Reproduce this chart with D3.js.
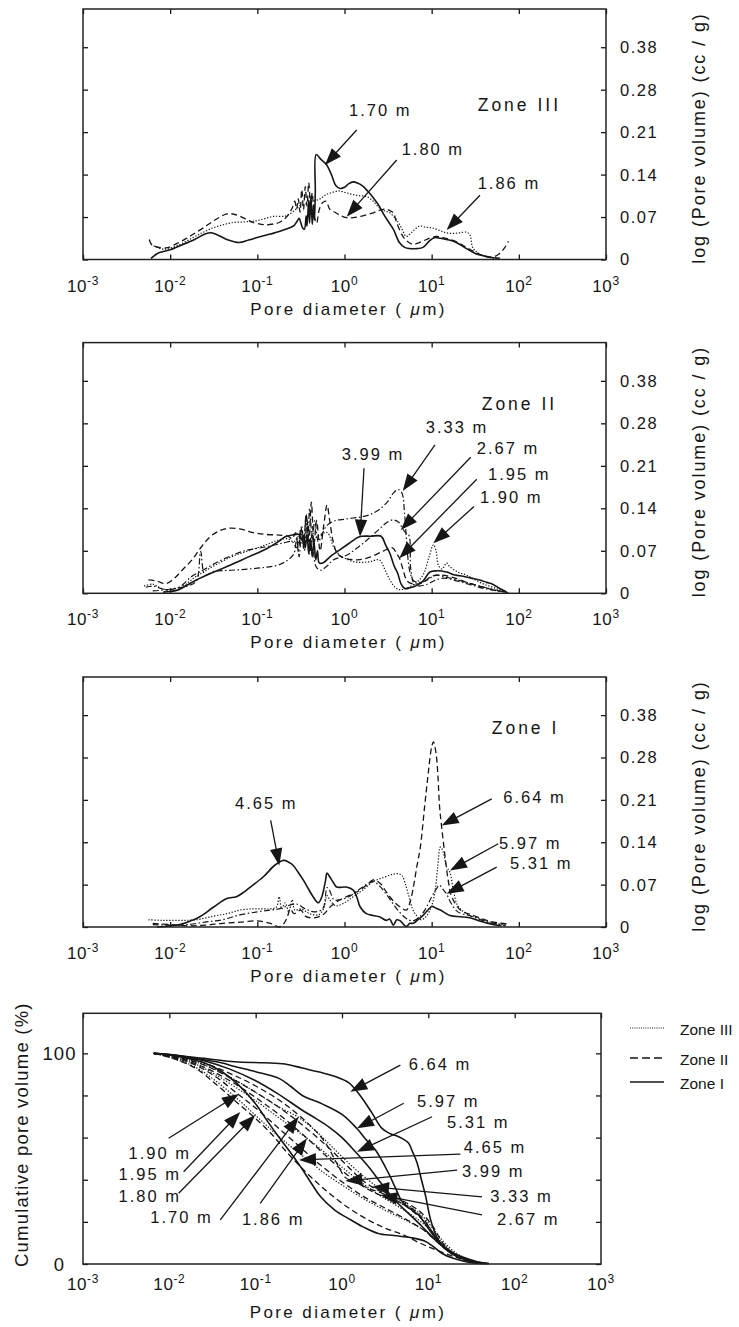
<!DOCTYPE html>
<html>
<head>
<meta charset="utf-8">
<script src="https://cdn.jsdelivr.net/npm/d3@7"></script>
<style>
  body { margin: 0; background: #fff; }
  svg { display: block; }
  text { font-family: "Liberation Sans", Arial, Helvetica, sans-serif; fill: #151515; }
</style>
</head>
<body>
<svg id="fig" width="739" height="1327"></svg>
<script>
// ---------- tick values ----------
const decadeExps = [-3, -2, -1, 0, 1, 2, 3];
const psdTickValues = [0, 0.07, 0.14, 0.21, 0.28, 0.38];
const cumTickValues = [0, 20, 40, 60, 80, 100];
const cumTickLabels = [0, 100];

// ---------- Zone III, log differential pore volume: [log10 diameter (µm), cc/g] ----------
const z3_170 = [[-2.22,0.002],[-2.13,0.011],[-2.0,0.016],[-1.9,0.022],[-1.72,0.033],[-1.6,0.042],[-1.53,0.044],[-1.45,0.04],[-1.35,0.033],[-1.21,0.028],[-1.1,0.032],[-0.98,0.037],[-0.85,0.042],[-0.75,0.046],[-0.65,0.051],[-0.58,0.056],[-0.54,0.064],[-0.52,0.068],[-0.5,0.06],[-0.48,0.052],[-0.46,0.05],[-0.44,0.072],[-0.43,0.055],[-0.41,0.098],[-0.4,0.06],[-0.385,0.105],[-0.37,0.058],[-0.355,0.09],[-0.345,0.065],[-0.335,0.11],[-0.325,0.173],[-0.27,0.165],[-0.21,0.157],[-0.15,0.14],[-0.1,0.122],[-0.05,0.117],[0.0,0.119],[0.05,0.125],[0.1,0.128],[0.15,0.126],[0.21,0.121],[0.27,0.112],[0.33,0.102],[0.39,0.09],[0.44,0.077],[0.5,0.063],[0.56,0.05],[0.63,0.028],[0.69,0.02],[0.75,0.018],[0.83,0.018],[0.9,0.02],[0.97,0.03],[1.03,0.036],[1.1,0.035],[1.17,0.033],[1.25,0.03],[1.32,0.025],[1.4,0.018],[1.5,0.01],[1.6,0.006],[1.7,0.003],[1.78,0.002]];
const z3_180 = [[-2.24,0.033],[-2.22,0.026],[-2.18,0.022],[-2.05,0.019],[-1.9,0.028],[-1.8,0.036],[-1.71,0.044],[-1.6,0.054],[-1.51,0.063],[-1.43,0.07],[-1.36,0.075],[-1.28,0.075],[-1.21,0.072],[-1.12,0.066],[-1.05,0.061],[-0.95,0.058],[-0.9,0.057],[-0.8,0.059],[-0.75,0.061],[-0.68,0.068],[-0.63,0.077],[-0.6,0.085],[-0.57,0.096],[-0.55,0.083],[-0.53,0.1],[-0.51,0.078],[-0.49,0.115],[-0.47,0.082],[-0.45,0.12],[-0.43,0.088],[-0.41,0.127],[-0.39,0.09],[-0.37,0.11],[-0.35,0.075],[-0.32,0.06],[-0.29,0.082],[-0.25,0.094],[-0.21,0.096],[-0.17,0.083],[-0.1,0.077],[-0.04,0.072],[0.02,0.069],[0.1,0.069],[0.21,0.072],[0.33,0.077],[0.42,0.082],[0.48,0.083],[0.53,0.08],[0.56,0.077],[0.6,0.06],[0.67,0.038],[0.72,0.03],[0.78,0.025],[0.86,0.028],[0.94,0.033],[1.05,0.038],[1.13,0.036],[1.21,0.033],[1.3,0.028],[1.4,0.02],[1.5,0.012],[1.6,0.006],[1.7,0.004],[1.78,0.01],[1.84,0.02],[1.88,0.03]];
const z3_186 = [[-2.22,0.025],[-2.15,0.02],[-2.05,0.017],[-1.9,0.024],[-1.74,0.036],[-1.62,0.045],[-1.51,0.052],[-1.4,0.057],[-1.28,0.061],[-1.15,0.062],[-1.05,0.063],[-0.95,0.066],[-0.82,0.071],[-0.67,0.072],[-0.58,0.08],[-0.52,0.088],[-0.44,0.092],[-0.36,0.096],[-0.28,0.1],[-0.21,0.107],[-0.13,0.111],[-0.06,0.113],[0.02,0.11],[0.1,0.107],[0.18,0.105],[0.25,0.104],[0.33,0.096],[0.4,0.085],[0.46,0.08],[0.52,0.077],[0.57,0.07],[0.61,0.063],[0.66,0.05],[0.71,0.038],[0.78,0.046],[0.86,0.055],[0.94,0.053],[1.01,0.052],[1.09,0.048],[1.17,0.044],[1.25,0.043],[1.32,0.044],[1.4,0.045],[1.44,0.04],[1.47,0.02],[1.52,0.012],[1.6,0.006],[1.7,0.003],[1.78,0.002]];

// ---------- Zone II ----------
const z2_399 = [[-2.08,0.002],[-2.0,0.003],[-1.9,0.006],[-1.8,0.014],[-1.7,0.022],[-1.5,0.035],[-1.3,0.047],[-1.1,0.06],[-0.9,0.073],[-0.75,0.086],[-0.68,0.093],[-0.6,0.096],[-0.52,0.097],[-0.49,0.088],[-0.47,0.095],[-0.45,0.075],[-0.43,0.097],[-0.41,0.065],[-0.39,0.09],[-0.37,0.06],[-0.35,0.085],[-0.33,0.055],[-0.31,0.07],[-0.29,0.05],[-0.25,0.05],[-0.15,0.062],[-0.05,0.072],[0.05,0.082],[0.15,0.092],[0.2,0.094],[0.3,0.094],[0.42,0.094],[0.47,0.08],[0.52,0.066],[0.57,0.045],[0.61,0.033],[0.65,0.015],[0.69,0.008],[0.75,0.009],[0.83,0.013],[0.9,0.02],[0.98,0.035],[1.05,0.037],[1.17,0.035],[1.27,0.03],[1.36,0.028],[1.45,0.025],[1.55,0.022],[1.63,0.018],[1.7,0.015],[1.78,0.008],[1.85,0.003]];
const z2_333 = [[-2.28,0.01],[-2.2,0.012],[-2.05,0.006],[-1.9,0.01],[-1.75,0.028],[-1.6,0.04],[-1.45,0.052],[-1.3,0.062],[-1.15,0.07],[-1.0,0.074],[-0.85,0.078],[-0.7,0.083],[-0.6,0.085],[-0.55,0.075],[-0.5,0.1],[-0.47,0.08],[-0.44,0.13],[-0.42,0.085],[-0.4,0.14],[-0.37,0.09],[-0.34,0.12],[-0.3,0.085],[-0.25,0.1],[-0.2,0.112],[-0.1,0.12],[0.0,0.122],[0.1,0.124],[0.2,0.126],[0.3,0.13],[0.4,0.138],[0.5,0.152],[0.56,0.165],[0.62,0.171],[0.66,0.165],[0.69,0.13],[0.71,0.09],[0.73,0.055],[0.76,0.03],[0.8,0.02],[0.88,0.018],[0.95,0.022],[1.05,0.03],[1.15,0.027],[1.3,0.022],[1.45,0.016],[1.6,0.01],[1.75,0.005],[1.86,0.002]];
const z2_267 = [[-2.2,0.004],[-2.1,0.005],[-1.95,0.008],[-1.8,0.012],[-1.7,0.02],[-1.65,0.069],[-1.6,0.03],[-1.5,0.036],[-1.3,0.038],[-1.1,0.04],[-0.9,0.043],[-0.75,0.047],[-0.65,0.055],[-0.58,0.065],[-0.55,0.09],[-0.52,0.06],[-0.49,0.11],[-0.46,0.07],[-0.43,0.12],[-0.4,0.065],[-0.37,0.1],[-0.33,0.045],[-0.28,0.038],[-0.2,0.045],[-0.13,0.055],[0.03,0.063],[0.12,0.072],[0.22,0.083],[0.3,0.093],[0.37,0.102],[0.43,0.11],[0.48,0.116],[0.56,0.121],[0.63,0.116],[0.66,0.108],[0.7,0.1],[0.74,0.095],[0.76,0.04],[0.8,0.015],[0.85,0.012],[0.95,0.015],[1.05,0.022],[1.15,0.025],[1.3,0.02],[1.45,0.014],[1.6,0.008],[1.75,0.004],[1.88,0.001]];
const z2_195 = [[-2.25,0.022],[-2.15,0.02],[-2.05,0.016],[-1.95,0.025],[-1.85,0.04],[-1.75,0.055],[-1.65,0.075],[-1.55,0.092],[-1.45,0.102],[-1.34,0.107],[-1.2,0.106],[-1.05,0.1],[-0.9,0.097],[-0.75,0.096],[-0.65,0.094],[-0.6,0.09],[-0.56,0.1],[-0.53,0.07],[-0.5,0.11],[-0.47,0.075],[-0.44,0.13],[-0.41,0.08],[-0.38,0.15],[-0.35,0.08],[-0.32,0.12],[-0.28,0.07],[-0.24,0.11],[-0.2,0.145],[-0.17,0.12],[-0.13,0.085],[-0.08,0.065],[0.0,0.058],[0.15,0.055],[0.3,0.06],[0.45,0.07],[0.55,0.075],[0.6,0.065],[0.63,0.058],[0.67,0.04],[0.72,0.02],[0.8,0.015],[0.9,0.018],[1.0,0.028],[1.1,0.03],[1.25,0.026],[1.4,0.018],[1.55,0.012],[1.7,0.006],[1.85,0.002]];
const z2_190 = [[-2.3,0.012],[-2.2,0.015],[-2.1,0.008],[-1.95,0.004],[-1.85,0.012],[-1.7,0.028],[-1.5,0.045],[-1.3,0.06],[-1.1,0.07],[-0.9,0.08],[-0.75,0.088],[-0.65,0.09],[-0.58,0.085],[-0.52,0.095],[-0.48,0.08],[-0.45,0.1],[-0.4,0.085],[-0.3,0.095],[-0.2,0.1],[-0.12,0.075],[-0.05,0.062],[0.0,0.058],[0.1,0.052],[0.2,0.051],[0.29,0.052],[0.4,0.055],[0.46,0.04],[0.52,0.022],[0.58,0.01],[0.63,0.006],[0.7,0.008],[0.8,0.015],[0.9,0.03],[0.97,0.06],[1.02,0.08],[1.05,0.07],[1.08,0.045],[1.12,0.04],[1.17,0.05],[1.2,0.045],[1.3,0.035],[1.4,0.03],[1.5,0.022],[1.6,0.015],[1.7,0.01],[1.8,0.005],[1.88,0.002]];

// ---------- Zone I ----------
const z1_465 = [[-2.15,0.0],[-1.89,0.004],[-1.75,0.011],[-1.66,0.017],[-1.5,0.033],[-1.35,0.047],[-1.24,0.05],[-1.15,0.058],[-1.08,0.066],[-0.93,0.083],[-0.8,0.102],[-0.7,0.11],[-0.64,0.107],[-0.59,0.102],[-0.53,0.09],[-0.47,0.077],[-0.41,0.062],[-0.36,0.05],[-0.3,0.04],[-0.26,0.05],[-0.22,0.075],[-0.2,0.089],[-0.17,0.083],[-0.13,0.074],[-0.09,0.066],[0.02,0.066],[0.1,0.061],[0.14,0.05],[0.18,0.033],[0.25,0.022],[0.33,0.019],[0.4,0.017],[0.48,0.011],[0.52,0.013],[0.56,0.003],[0.6,0.012],[0.64,0.01],[0.68,0.004],[0.71,0.001],[0.75,0.006],[0.79,0.006],[0.85,0.013],[0.9,0.019],[0.95,0.027],[1.0,0.034],[1.05,0.031],[1.1,0.028],[1.21,0.019],[1.33,0.017],[1.45,0.015],[1.55,0.01],[1.65,0.006],[1.75,0.003],[1.8,0.002]];
const z1_664 = [[-2.2,0.006],[-2.0,0.004],[-1.8,0.002],[-1.6,0.003],[-1.4,0.006],[-1.2,0.008],[-1.0,0.01],[-0.85,0.006],[-0.75,0.0],[-0.7,0.005],[-0.66,0.015],[-0.62,0.03],[-0.58,0.022],[-0.5,0.028],[-0.45,0.018],[-0.35,0.015],[-0.25,0.02],[-0.15,0.035],[-0.05,0.045],[0.02,0.05],[0.1,0.055],[0.18,0.061],[0.26,0.07],[0.33,0.078],[0.41,0.072],[0.47,0.06],[0.52,0.05],[0.58,0.04],[0.64,0.033],[0.71,0.028],[0.75,0.04],[0.79,0.066],[0.83,0.1],[0.87,0.132],[0.92,0.2],[0.96,0.253],[1.0,0.305],[1.02,0.317],[1.05,0.29],[1.07,0.254],[1.09,0.2],[1.11,0.171],[1.15,0.121],[1.19,0.077],[1.23,0.05],[1.33,0.028],[1.48,0.019],[1.63,0.011],[1.75,0.007],[1.86,0.005]];
const z1_597 = [[-2.25,0.012],[-2.1,0.011],[-1.9,0.011],[-1.7,0.012],[-1.5,0.018],[-1.35,0.022],[-1.2,0.028],[-1.05,0.03],[-0.95,0.03],[-0.85,0.03],[-0.78,0.033],[-0.75,0.05],[-0.72,0.03],[-0.68,0.04],[-0.64,0.025],[-0.6,0.045],[-0.57,0.028],[-0.5,0.03],[-0.4,0.022],[-0.3,0.02],[-0.24,0.03],[-0.2,0.052],[-0.17,0.045],[-0.1,0.035],[0.0,0.04],[0.1,0.05],[0.2,0.06],[0.33,0.075],[0.45,0.082],[0.55,0.087],[0.62,0.088],[0.66,0.085],[0.7,0.07],[0.74,0.05],[0.78,0.03],[0.82,0.02],[0.88,0.012],[0.94,0.018],[1.0,0.035],[1.04,0.06],[1.07,0.1],[1.1,0.132],[1.13,0.125],[1.17,0.1],[1.21,0.09],[1.25,0.06],[1.3,0.035],[1.4,0.022],[1.55,0.014],[1.7,0.007],[1.85,0.003]];
const z1_531 = [[-2.2,0.004],[-2.0,0.003],[-1.8,0.004],[-1.6,0.008],[-1.4,0.012],[-1.2,0.02],[-1.0,0.025],[-0.85,0.028],[-0.75,0.03],[-0.65,0.035],[-0.55,0.038],[-0.45,0.03],[-0.35,0.025],[-0.25,0.03],[-0.2,0.065],[-0.17,0.06],[-0.12,0.045],[-0.05,0.045],[0.05,0.05],[0.15,0.06],[0.25,0.07],[0.33,0.075],[0.4,0.068],[0.5,0.05],[0.6,0.03],[0.7,0.015],[0.78,0.01],[0.85,0.015],[0.93,0.03],[1.0,0.05],[1.05,0.062],[1.09,0.069],[1.13,0.062],[1.17,0.055],[1.22,0.04],[1.3,0.025],[1.45,0.018],[1.6,0.01],[1.75,0.005],[1.85,0.002]];

// ---------- cumulative pore volume (%) ----------
const c_664 = [[-2.18,100],[-1.9,99],[-1.6,97.6],[-1.24,96],[-0.9,95.5],[-0.66,94.9],[-0.46,93],[-0.25,91],[-0.08,89],[0.08,86],[0.21,80],[0.35,71.5],[0.46,64.5],[0.55,62],[0.62,61],[0.7,59.5],[0.77,57.4],[0.82,53],[0.87,48],[0.92,40],[0.97,32],[1.02,22],[1.08,14.5],[1.15,9.5],[1.24,6.6],[1.35,4],[1.47,2.3],[1.6,0.8],[1.7,0.2]];
const c_597 = [[-2.18,100],[-1.9,99],[-1.62,97],[-1.4,95.5],[-1.24,93.7],[-1.0,91.3],[-0.73,88.1],[-0.6,84.5],[-0.46,80],[-0.23,76],[0.0,71],[0.17,64.4],[0.28,59],[0.39,54],[0.54,43],[0.62,36],[0.69,30],[0.75,27.5],[0.81,25.6],[0.88,23.5],[0.93,21],[0.98,18],[1.04,14.6],[1.12,10.5],[1.2,7.4],[1.3,4.5],[1.43,2.4],[1.58,0.8],[1.7,0.2]];
const c_531 = [[-2.18,100],[-1.9,98.8],[-1.6,96.5],[-1.3,92.5],[-1.0,87],[-0.75,81],[-0.46,73],[-0.3,69],[-0.15,65],[0.0,60],[0.15,53.5],[0.31,46],[0.46,38],[0.62,30],[0.77,24],[0.93,17.7],[1.08,11.4],[1.18,7.8],[1.27,5],[1.38,2.8],[1.5,1.2],[1.65,0.2]];
const c_465 = [[-2.18,100],[-1.9,98.5],[-1.6,95.5],[-1.4,91.5],[-1.2,85],[-1.0,76],[-0.85,67],[-0.7,58.5],[-0.58,52],[-0.46,45],[-0.35,38],[-0.25,32],[-0.08,25.5],[0.1,21],[0.25,17.5],[0.42,14.5],[0.6,13.5],[0.8,12.5],[0.95,11],[1.05,8.5],[1.16,5],[1.28,2.8],[1.45,1],[1.62,0.2]];
const c_399 = [[-2.18,100],[-1.9,98.6],[-1.6,95.5],[-1.3,90.5],[-1.0,84.5],[-0.7,77],[-0.4,67],[-0.2,58],[-0.05,47],[0.04,41],[0.15,39],[0.3,36],[0.5,33],[0.7,28.5],[0.85,24],[1.0,18],[1.1,12],[1.2,7.5],[1.35,3.5],[1.5,1.3],[1.65,0.2]];
const c_333 = [[-2.18,100],[-1.9,98.2],[-1.6,94.5],[-1.3,88.5],[-1.0,81.5],[-0.7,73.5],[-0.4,64],[-0.15,55],[0.05,47],[0.2,41],[0.35,36.5],[0.5,33.5],[0.7,30],[0.9,25],[1.05,18],[1.15,11],[1.25,6],[1.4,2.5],[1.55,0.8],[1.65,0.2]];
const c_267 = [[-2.18,100],[-1.9,97.8],[-1.6,93.5],[-1.3,87],[-1.0,79],[-0.7,70],[-0.4,59.5],[-0.15,50],[0.1,41],[0.3,35.5],[0.45,32.5],[0.6,30],[0.8,26.5],[0.95,21],[1.08,13],[1.2,7],[1.35,3],[1.5,1],[1.65,0.2]];
const c_195 = [[-2.18,100],[-1.95,97.5],[-1.7,93],[-1.45,85],[-1.24,77.5],[-1.0,69],[-0.8,61],[-0.66,54],[-0.5,47],[-0.3,39],[-0.1,32],[0.1,26],[0.3,21],[0.5,17],[0.7,14],[0.9,10],[1.1,6.5],[1.3,3.5],[1.5,1.2],[1.65,0.2]];
const c_190 = [[-2.18,100],[-1.95,98],[-1.7,94.5],[-1.45,88.5],[-1.2,80.5],[-1.0,74],[-0.75,65],[-0.5,56],[-0.25,47],[0.0,39],[0.25,32],[0.5,26.5],[0.75,21],[0.95,16],[1.1,10.5],[1.25,5.5],[1.4,2.5],[1.55,0.8],[1.68,0.1]];
const c_186 = [[-2.18,100],[-1.95,98],[-1.7,95],[-1.45,89.5],[-1.2,83],[-1.0,77.5],[-0.75,70],[-0.55,64],[-0.4,59.5],[-0.2,53],[0.0,46],[0.2,39.5],[0.4,33.5],[0.6,28.5],[0.8,23.5],[1.0,17],[1.15,10.5],[1.3,5],[1.45,2],[1.6,0.5],[1.7,0.1]];
const c_180 = [[-2.18,100],[-1.95,97.5],[-1.7,93.5],[-1.45,86.5],[-1.2,78],[-1.0,70.5],[-0.8,63],[-0.6,56],[-0.4,49.5],[-0.2,43],[0.0,37.5],[0.25,31],[0.5,25.5],[0.75,20.5],[0.95,16],[1.1,11],[1.25,6],[1.4,2.8],[1.55,0.9],[1.68,0.1]];
const c_170 = [[-2.18,100],[-1.95,98.5],[-1.7,96],[-1.45,92],[-1.2,86.5],[-1.0,81.5],[-0.75,75],[-0.5,69.5],[-0.3,63],[-0.1,55],[0.1,47],[0.3,40],[0.5,34],[0.7,29.5],[0.9,24],[1.05,17],[1.2,9.5],[1.35,4.5],[1.5,1.5],[1.65,0.2]];

// ---------- depth labels: [text, text x, text y, arrow from x, from y, arrow tip x, tip y] (log10 µm, value) ----------
const notesZ3 = [
  ["1.70 m", 0.052, 0.237, 0.14, 0.2135, -0.224, 0.156],
  ["1.80 m", 0.656, 0.172, 0.599, 0.164, 0.025, 0.0706],
  ["1.86 m", 1.528, 0.117, 1.554, 0.106, 1.172, 0.0486]
];
const notesZ2 = [
  ["3.99 m", -0.032, 0.2197, 0.224, 0.206, 0.178, 0.0933],
  ["3.33 m", 0.932, 0.2638, 1.038, 0.2445, 0.668, 0.1686],
  ["2.67 m", 1.517, 0.2297, 1.448, 0.2242, 0.645, 0.1044],
  ["1.95 m", 1.646, 0.1868, 1.517, 0.188, 0.629, 0.0577],
  ["1.90 m", 1.554, 0.148, 1.486, 0.143, 1.019, 0.0824]
];
const notesZ1 = [
  ["4.65 m", -1.256, 0.1952, -0.847, 0.176, -0.748, 0.1017],
  ["6.64 m", 1.822, 0.2044, 1.689, 0.2117, 1.115, 0.1677],
  ["5.97 m", 1.772, 0.1293, 1.764, 0.1375, 1.21, 0.0935],
  ["5.31 m", 1.899, 0.0963, 1.746, 0.0989, 1.172, 0.0551]
];
const notesCum = [
  ["6.64 m", 0.773, 92.1, 0.676, 94.4, 0.096, 81.8],
  ["5.97 m", 0.869, 74.7, 0.715, 76.3, 0.174, 64.4],
  ["5.31 m", 1.217, 64.4, 1.043, 69.9, 0.174, 53.3],
  ["4.65 m", 1.41, 52.5, 1.371, 52.2, -0.498, 49.4],
  ["3.99 m", 1.39, 41.4, 1.333, 44.6, 0.038, 39.4],
  ["3.33 m", 1.718, 29.6, 1.622, 31.9, 0.348, 36.7],
  ["2.67 m", 1.796, 18.5, 1.622, 23.3, 0.444, 32.7],
  ["1.90 m", -2.472, 49.7, -2.008, 59.7, -1.194, 80.7],
  ["1.95 m", -2.588, 39.9, -1.834, 43.8, -1.178, 72.1],
  ["1.80 m", -2.588, 29.6, -1.892, 33.6, -1.005, 70.7],
  ["1.70 m", -2.221, 19.3, -1.41, 20.9, -0.502, 69.9],
  ["1.86 m", -1.159, 18.5, -0.947, 28.8, -0.406, 59.7]
];

const zoneNames = ["Zone III", "Zone II", "Zone I"];
const zoneLabelPos = [[1.528, 0.245], [1.574, 0.3117], [1.689, 0.3355]];

// ---------- drawing ----------
const svg = d3.select("#fig");
const ink = "#161616";
const lineStyles = {
  solid:   { w: 1.6, dash: null },
  dashed:  { w: 1.3, dash: "6,3.5" },
  dotted:  { w: 1.2, dash: "1.3,1.7" },
  dashdot: { w: 1.2, dash: "6,2.5,1.5,2.5" }
};

function supTickLabel(g, xs, yBase, exps) {
  const t = g.selectAll("text.xt").data(exps).join("text")
    .attr("class", "xt")
    .attr("x", e => xs(Math.pow(10, e)))
    .attr("y", yBase)
    .attr("text-anchor", "middle")
    .style("font-size", "17px")
    .style("letter-spacing", "0.6px");
  t.append("tspan").text("10");
  t.append("tspan").attr("dy", -7).style("font-size", "12px").text(e => String(e));
}

function xTitle(g, cx, yBase) {
  const t = g.append("text").attr("x", cx).attr("y", yBase)
    .attr("text-anchor", "middle")
    .style("font-size", "17px").style("letter-spacing", "2.4px");
  t.append("tspan").text("Pore diameter ( ");
  t.append("tspan").style("font-style", "italic").text("\u03BC");
  t.append("tspan").text("m)");
}

function arrow(g, x1, y1, x2, y2) {
  const dx = x2 - x1, dy = y2 - y1, len = Math.hypot(dx, dy);
  const ux = dx / len, uy = dy / len;
  const L = 17, W = 6.2;
  const bx = x2 - ux * L, by = y2 - uy * L;
  g.append("line").attr("x1", x1).attr("y1", y1).attr("x2", bx + ux * 2).attr("y2", by + uy * 2)
    .attr("stroke", ink).attr("stroke-width", 1.3);
  g.append("path")
    .attr("d", `M${x2},${y2}L${bx - uy * W},${by + ux * W}L${bx + uy * W},${by - ux * W}Z`)
    .attr("fill", ink);
}

function drawNotes(g, notes, xs, ys) {
  notes.forEach(n => {
    g.append("text").attr("x", xs(Math.pow(10, n[1]))).attr("y", ys(n[2]))
      .style("font-size", "16.5px").style("letter-spacing", "2px").text(n[0]);
    arrow(g, xs(Math.pow(10, n[3])), ys(n[4]), xs(Math.pow(10, n[5])), ys(n[6]));
  });
}

function drawSeries(g, list, xs, ys) {
  const line = d3.line()
    .x(d => xs(Math.pow(10, d[0])))
    .y(d => ys(d[1]))
    .curve(d3.curveCatmullRom.alpha(0.5));
  list.forEach(([data, style]) => {
    const s = lineStyles[style];
    g.append("path").attr("d", line(data))
      .attr("fill", "none").attr("stroke", ink)
      .attr("stroke-width", s.w)
      .attr("stroke-dasharray", s.dash)
      .attr("stroke-linejoin", "round");
  });
}

function frameAndTicks(g, xs, ys, yTicks, box, opts) {
  const { left, right, top, bottom } = box;
  // inward ticks along all four edges
  const tl = 5;
  g.append("g").attr("transform", `translate(0,${bottom})`)
    .call(d3.axisBottom(xs).tickValues(opts.bottomTicks ? decadeExps.map(e => Math.pow(10, e)) : []).tickSizeInner(-tl).tickSizeOuter(0).tickFormat(""))
    .call(a => a.select(".domain").remove());
  g.append("g").attr("transform", `translate(0,${top})`)
    .call(d3.axisTop(xs).tickValues(decadeExps.map(e => Math.pow(10, e))).tickSizeInner(-tl).tickSizeOuter(0).tickFormat(""))
    .call(a => a.select(".domain").remove());
  g.append("g").attr("transform", `translate(${left},0)`)
    .call(d3.axisLeft(ys).tickValues(yTicks).tickSizeInner(-tl).tickSizeOuter(0).tickFormat(""))
    .call(a => a.select(".domain").remove());
  g.append("g").attr("transform", `translate(${right},0)`)
    .call(d3.axisRight(ys).tickValues(yTicks).tickSizeInner(-tl).tickSizeOuter(0).tickFormat(""))
    .call(a => a.select(".domain").remove());
  g.selectAll(".tick line").attr("stroke", ink).attr("stroke-width", 1.3);
  g.append("rect").attr("x", left).attr("y", top)
    .attr("width", right - left).attr("height", bottom - top)
    .attr("fill", "none").attr("stroke", "#222").attr("stroke-width", 1.5);
}

// ----- the three differential panels -----
const psdBoxes = [
  { left: 83, right: 606, top: 9, bottom: 259.5 },
  { left: 83, right: 606, top: 342.6, bottom: 593.3 },
  { left: 83, right: 606, top: 677, bottom: 927 }
];
const psdSeries = [
  [[z3_180, "dashed"], [z3_186, "dotted"], [z3_170, "solid"]],
  [[z2_333, "dashdot"], [z2_267, "dashdot"], [z2_195, "dashed"], [z2_190, "dotted"], [z2_399, "solid"]],
  [[z1_664, "dashed"], [z1_597, "dotted"], [z1_531, "dashdot"], [z1_465, "solid"]]
];
const psdNotes = [notesZ3, notesZ2, notesZ1];

psdBoxes.forEach((box, i) => {
  const g = svg.append("g");
  const xs = d3.scaleLog().domain([1e-3, 1e3]).range([box.left, box.right]);
  const step = (box.bottom - box.top) / 5.9;
  const ys = d3.scaleLinear()
    .domain([0, 0.07, 0.14, 0.21, 0.28, 0.38, 0.47])
    .range([0, 1, 2, 3, 4, 5, 5.9].map(k => box.bottom - k * step));

  drawSeries(g, psdSeries[i], xs, ys);
  frameAndTicks(g, xs, ys, psdTickValues, box, { bottomTicks: true });

  supTickLabel(g, xs, box.bottom + 32, decadeExps);
  xTitle(g, (box.left + box.right) / 2 + 4, box.bottom + 55);

  g.selectAll("text.yt").data(psdTickValues).join("text")
    .attr("class", "yt")
    .attr("x", box.right + 14)
    .attr("y", d => ys(d))
    .attr("dy", "0.36em")
    .style("font-size", "16.5px").style("letter-spacing", "1.5px")
    .text(d => String(d));

  g.append("text")
    .attr("transform", `translate(${box.right + 99},${box.top + 129}) rotate(-90)`)
    .attr("text-anchor", "middle")
    .style("font-size", "18px").style("letter-spacing", "1.9px")
    .text("log (Pore volume) (cc / g)");

  g.append("text")
    .attr("x", xs(Math.pow(10, zoneLabelPos[i][0]))).attr("y", ys(zoneLabelPos[i][1]))
    .style("font-size", "17.5px").style("letter-spacing", "3px")
    .text(zoneNames[i]);

  drawNotes(g, psdNotes[i], xs, ys);
});

// ----- cumulative panel -----
{
  const box = { left: 83, right: 601, top: 1013.3, bottom: 1264 };
  const g = svg.append("g");
  const xs = d3.scaleLog().domain([1e-3, 1e3]).range([box.left, box.right]);
  const ys = d3.scaleLinear().domain([0, 119]).range([box.bottom, box.top]);

  drawSeries(g, [
    [c_170, "dotted"], [c_180, "dotted"], [c_186, "dotted"],
    [c_190, "dashed"], [c_195, "dashed"], [c_267, "dashed"], [c_333, "dashed"], [c_399, "dashed"],
    [c_465, "solid"], [c_531, "solid"], [c_597, "solid"], [c_664, "solid"]
  ], xs, ys);
  frameAndTicks(g, xs, ys, cumTickValues, box, { bottomTicks: false });

  supTickLabel(g, xs, box.bottom + 26, decadeExps);
  xTitle(g, (box.left + box.right) / 2 + 6, box.bottom + 54);

  g.selectAll("text.yt").data(cumTickLabels).join("text")
    .attr("class", "yt")
    .attr("x", 59.5)
    .attr("y", d => ys(d))
    .attr("dy", "0.36em")
    .attr("text-anchor", "middle")
    .style("font-size", "18.5px").style("letter-spacing", "1px")
    .text(d => String(d));

  g.append("text")
    .attr("transform", `translate(28,${(box.top + box.bottom) / 2 - 4}) rotate(-90)`)
    .attr("text-anchor", "middle")
    .style("font-size", "18.5px").style("letter-spacing", "1.2px")
    .text("Cumulative pore volume (%)");

  drawNotes(g, notesCum, xs, ys);

  // legend
  const legendItems = [["Zone III", "dotted"], ["Zone II", "dashed"], ["Zone I", "solid"]];
  const lg = svg.append("g").attr("transform", "translate(630,1028)");
  legendItems.forEach(([name, style], k) => {
    const s = lineStyles[style];
    const yy = [0, 30, 54][k];
    lg.append("line").attr("x1", 0).attr("x2", 34).attr("y1", yy).attr("y2", yy)
      .attr("stroke", ink).attr("stroke-width", style === "dotted" ? 1.1 : 1.5)
      .attr("stroke-dasharray", style === "dashed" ? "8,4" : (style === "dotted" ? "1,1.2" : null));
    lg.append("text").attr("x", 50).attr("y", yy + 6.5)
      .style("font-size", "15.5px").text(name);
  });
}
</script>
</body>
</html>
